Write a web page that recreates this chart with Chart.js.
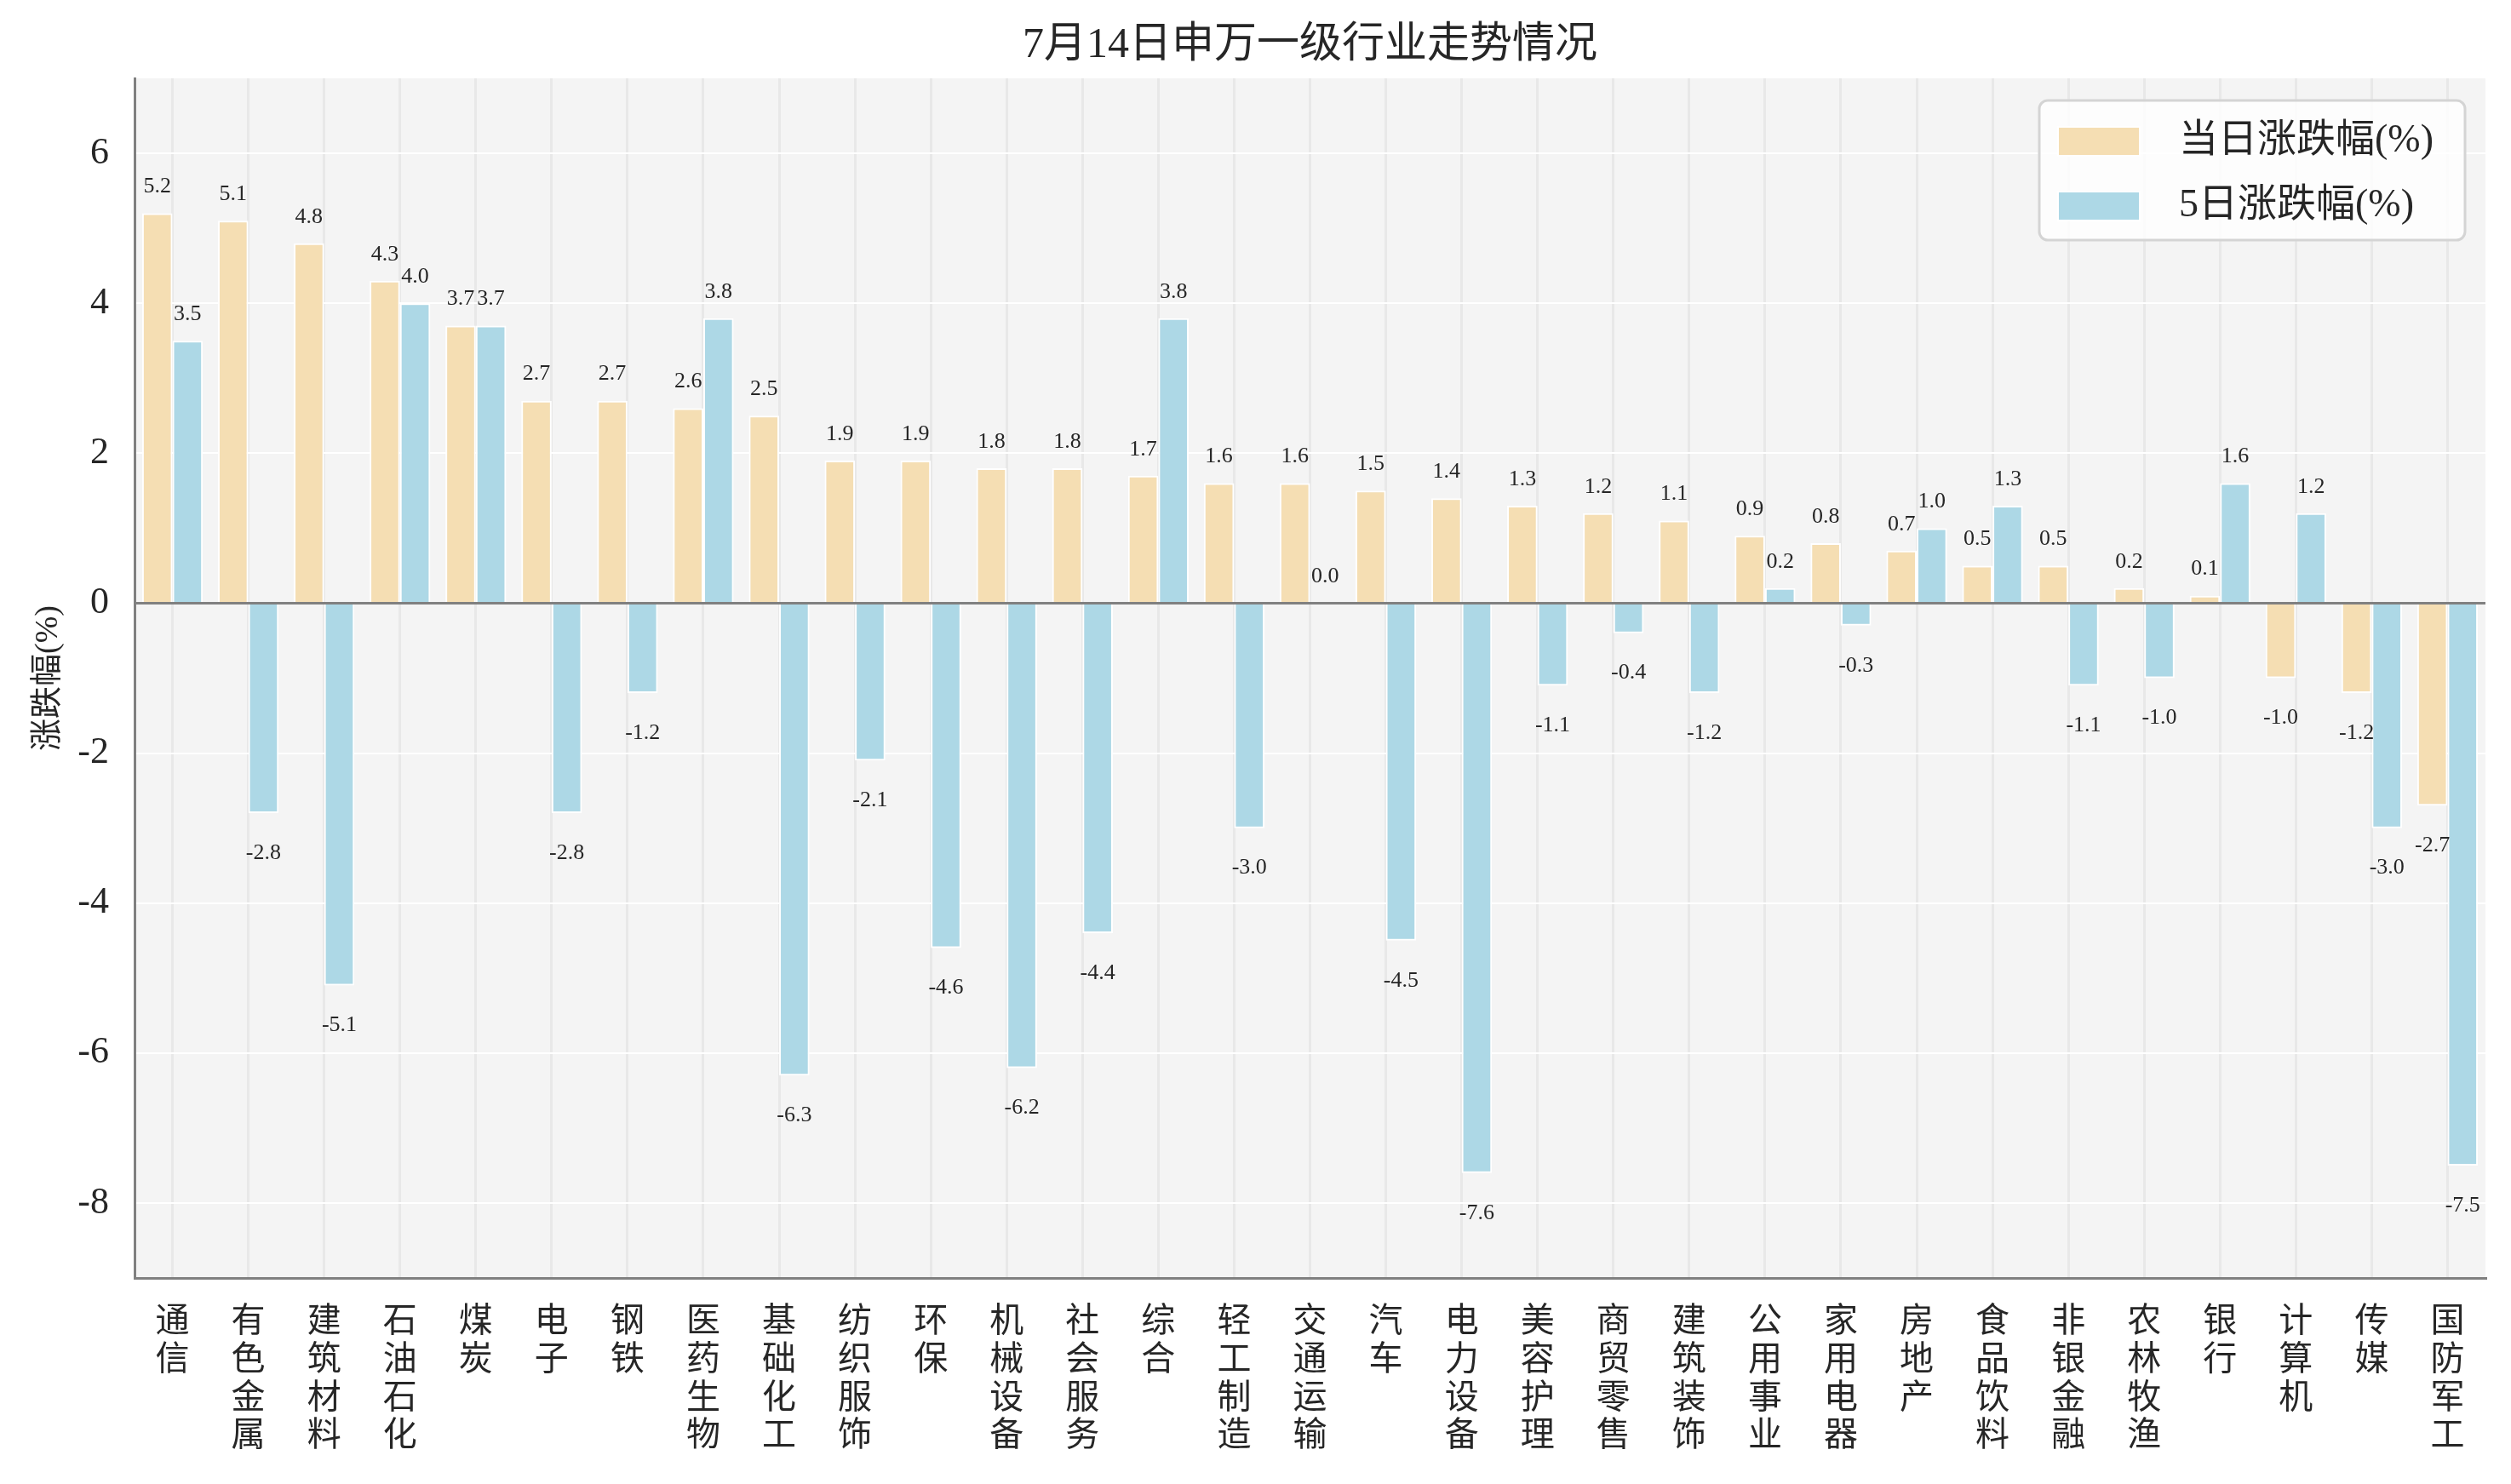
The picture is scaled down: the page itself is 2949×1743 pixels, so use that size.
<!DOCTYPE html>
<html>
<head>
<meta charset="utf-8">
<script src="https://cdn.jsdelivr.net/npm/chart.js@4/dist/chart.umd.min.js"></script>
<style>
  html, body { margin: 0; padding: 0; background: #fff; }
  #wrap { width: 2949px; height: 1743px; }
</style>
</head>
<body>
<div id="wrap"><canvas id="myChart" width="2949" height="1743"></canvas></div>
<script>
// 行业名称
var categories = ['通信', '有色金属', '建筑材料', '石油石化', '煤炭', '电子', '钢铁', '医药生物', '基础化工', '纺织服饰',
    '环保', '机械设备', '社会服务', '综合', '轻工制造', '交通运输', '汽车', '电力设备', '美容护理', '商贸零售',
    '建筑装饰', '公用事业', '家用电器', '房地产', '食品饮料', '非银金融', '农林牧渔', '银行', '计算机', '传媒', '国防军工'];

// 当日涨跌幅(%)
var dayChange = [5.2, 5.1, 4.8, 4.3, 3.7, 2.7, 2.7, 2.6, 2.5, 1.9,
    1.9, 1.8, 1.8, 1.7, 1.6, 1.6, 1.5, 1.4, 1.3, 1.2,
    1.1, 0.9, 0.8, 0.7, 0.5, 0.5, 0.2, 0.1, -1.0, -1.2, -2.7];

// 5日涨跌幅(%)
var fiveDayChange = [3.5, -2.8, -5.1, 4.0, 3.7, -2.8, -1.2, 3.8, -6.3, -2.1,
    -4.6, -6.2, -4.4, 3.8, -3.0, 0.0, -4.5, -7.6, -1.1, -0.4,
    -1.2, 0.2, -0.3, 1.0, 1.3, -1.1, -1.0, 1.6, 1.2, -3.0, -7.5];

var seriesNames = ['当日涨跌幅(%)', '5日涨跌幅(%)'];
var yTicks = [-8, -6, -4, -2, 0, 2, 4, 6];

var FONT = "'Liberation Serif', 'Noto Sans CJK SC', serif";
var TEXT = '#262626';

// 绘图区背景
var plotBg = {
    id: 'plotBg',
    beforeDraw: function (chart) {
        var a = chart.chartArea, ctx = chart.ctx;
        ctx.save();
        ctx.fillStyle = '#f4f4f4';
        ctx.fillRect(a.left, a.top, a.right - a.left, a.bottom - a.top);
        ctx.restore();
    }
};

// 柱子上的数值
var barLabels = {
    id: 'barLabels',
    afterDatasetsDraw: function (chart) {
        var ctx = chart.ctx;
        ctx.save();
        ctx.font = '26px ' + FONT;
        ctx.fillStyle = TEXT;
        ctx.textAlign = 'center';
        ctx.textBaseline = 'middle';
        chart.data.datasets.forEach(function (ds, i) {
            chart.getDatasetMeta(i).data.forEach(function (bar, j) {
                var v = ds.data[j];
                var y = v >= 0 ? bar.y - 31 : bar.y + 47;
                ctx.fillText(v.toFixed(1), bar.x, y);
            });
        });
        ctx.restore();
    }
};

// 右上角图例
var boxLegend = {
    id: 'boxLegend',
    afterDraw: function (chart) {
        var a = chart.chartArea, ctx = chart.ctx;
        var w = 500, h = 164;
        var x = a.right - 24 - w, y = a.top + 26;
        ctx.save();
        ctx.beginPath();
        ctx.roundRect(x, y, w, h, 10);
        ctx.fillStyle = 'rgba(255,255,255,0.8)';
        ctx.fill();
        ctx.lineWidth = 3;
        ctx.strokeStyle = '#d4d4d4';
        ctx.stroke();
        ctx.font = '46px ' + FONT;
        ctx.textBaseline = 'middle';
        ctx.textAlign = 'left';
        chart.data.datasets.forEach(function (ds, i) {
            var cy = y + 48 + i * 76;
            ctx.fillStyle = ds.backgroundColor;
            ctx.fillRect(x + 22, cy - 17, 96, 34);
            ctx.strokeStyle = '#fff';
            ctx.lineWidth = 2;
            ctx.strokeRect(x + 22, cy - 17, 96, 34);
            ctx.fillStyle = TEXT;
            ctx.fillText(ds.label, x + 164, cy);
        });
        ctx.restore();
    }
};

var ctx = document.getElementById('myChart').getContext('2d');
var myChart = new Chart(ctx, {
    type: 'bar',
    data: {
        labels: categories.map(function (c) { return c.split(''); }),
        datasets: [{
            label: seriesNames[0],
            data: dayChange,
            backgroundColor: '#f5deb3',
            borderColor: '#ffffff',
            borderWidth: 2,
            categoryPercentage: 0.8,
            barPercentage: 1.0
        }, {
            label: seriesNames[1],
            data: fiveDayChange,
            backgroundColor: '#add8e6',
            borderColor: '#ffffff',
            borderWidth: 2,
            categoryPercentage: 0.8,
            barPercentage: 1.0
        }]
    },
    options: {
        responsive: false,
        animation: false,
        layout: { padding: { top: 0, left: 0, right: 30, bottom: 0 } },
        plugins: {
            legend: { display: false },
            tooltip: { enabled: false },
            title: {
                display: true,
                fullSize: false,
                text: '7月14日申万一级行业走势情况',
                color: TEXT,
                font: { family: FONT, size: 50, weight: 'normal' },
                padding: { top: 24, bottom: 8 }
            }
        },
        scales: {
            x: {
                offset: true,
                grid: { display: true, offset: false, color: '#e8e8e8', lineWidth: 3, drawTicks: false },
                border: { display: true, color: '#808080', width: 3 },
                ticks: {
                    color: TEXT,
                    padding: 30,
                    maxRotation: 0,
                    autoSkip: false,
                    font: { family: FONT, size: 40, lineHeight: 1.12 }
                },
                afterFit: function (scale) { scale.height = 242; }
            },
            y: {
                min: -9,
                max: 7,
                afterBuildTicks: function (scale) {
                    scale.ticks = yTicks.map(function (v) { return { value: v }; });
                },
                grid: {
                    drawTicks: false,
                    color: function (c) { return c.tick && c.tick.value === 0 ? '#808080' : '#ffffff'; },
                    lineWidth: function (c) { return c.tick && c.tick.value === 0 ? 3 : 2; }
                },
                border: { display: true, color: '#808080', width: 3 },
                ticks: {
                    color: TEXT,
                    padding: 30,
                    font: { family: FONT, size: 44 }
                },
                title: {
                    display: true,
                    text: '涨跌幅(%)',
                    color: TEXT,
                    font: { family: FONT, size: 38 },
                    padding: { top: 34, bottom: 0 }
                },
                afterFit: function (scale) { scale.width = 158; }
            }
        }
    },
    plugins: [plotBg, barLabels, boxLegend]
});
</script>
</body>
</html>
